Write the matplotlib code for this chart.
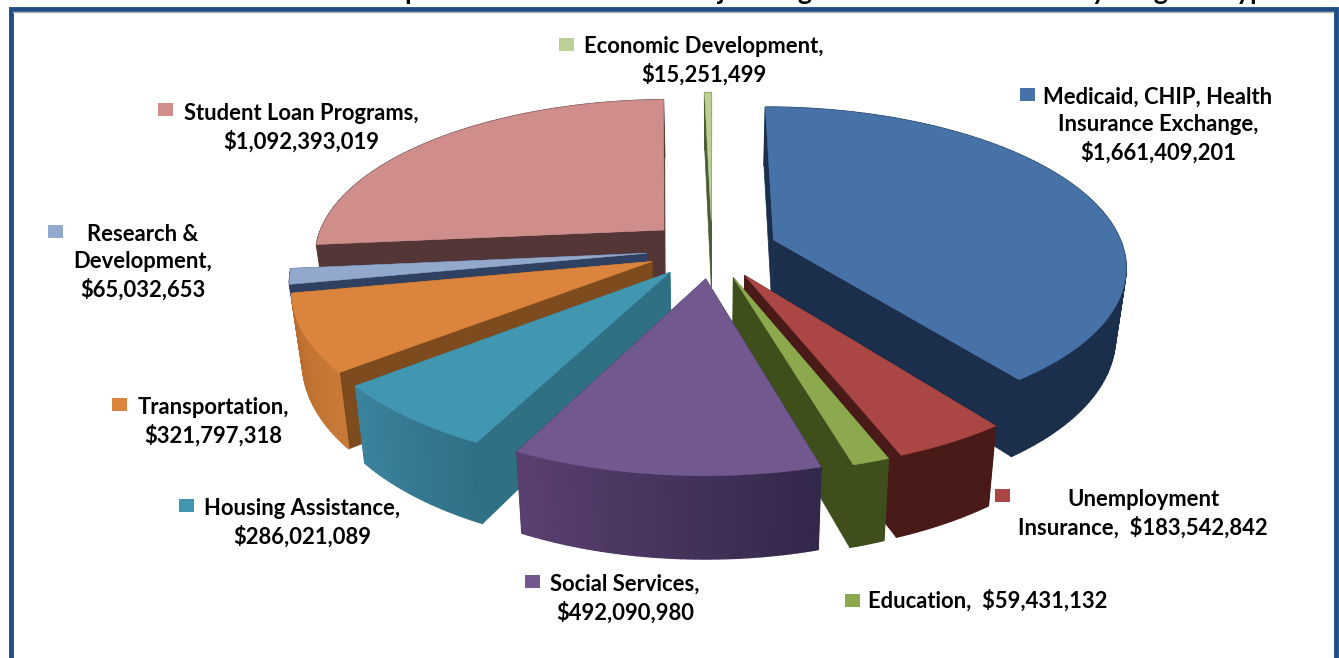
import numpy as np
import matplotlib
matplotlib.use('Agg')
import matplotlib.pyplot as plt
from matplotlib.colors import to_rgb

# funding by program type, clockwise from 12 o'clock
programas = ['Medicaid', 'Unemployment', 'Education', 'Social Services', 'Housing',
             'Transportation', 'Research', 'Student Loans', 'Economic Development']
valores = [1661409201, 183542842, 59431132, 492090980, 286021089,
           321797318, 65032653, 1092393019, 15251499]
etiquetas = ['Medicaid, CHIP, Health\nInsurance Exchange,\n$1,661,409,201',
             'Unemployment\nInsurance,  $183,542,842',
             'Education,  $59,431,132',
             'Social Services,\n$492,090,980',
             'Housing Assistance,\n$286,021,089',
             'Transportation,\n$321,797,318',
             'Research &\nDevelopment,\n$65,032,653',
             'Student Loan Programs,\n$1,092,393,019',
             'Economic Development,\n$15,251,499']
titulo = 'Fiscal Year 2014 Federal Implementation Costs on Major Program and Then Further by Program Type'

# colores: top, side left, side right, cut face
colores = [('#4672A8', '#1B2F4C', '#1B2F4C', '#1B2F4C'),
           ('#AA4643', '#4A1A19', '#4A1A19', '#4A1A19'),
           ('#8CA94E', '#3F4F1C', '#3F4F1C', '#3F4F1C'),
           ('#71588F', '#5A4070', '#33274A', '#33274A'),
           ('#4197B0', '#3B839E', '#2F7085', '#2F7085'),
           ('#DB843D', '#BA6C2E', '#C87A38', '#7D4B1D'),
           ('#92A8CD', '#2F4060', '#2F4060', '#2F4060'),
           ('#CF8E8C', '#553636', '#553636', '#553636'),
           ('#BCD095', '#4C5C35', '#4C5C35', '#4C5C35')]

# label anchor (center x, first line y) and the little legend square
pos_etiquetas = [(1158, 87), (1143, 489), (988, 601), (625, 574), (302, 498),
                 (213, 397), (143, 224), (301, 103), (704, 36)]
pos_cuadros = [(1020, 88), (995, 489), (845, 594), (525, 575), (179, 499),
               (112, 398), (48, 225), (158, 103), (559, 38)]

# pie geometry in pixels
cx, cy = 712, 249
rx, ry = 350, 156
explode = 0.187
persp = 0.155
alto = 68
pinch = 0.026

# back to front
orden = [7, 8, 6, 5, 4, 0, 1, 2, 3]


def proyectar(x, y, z):
    s = 1 / (1 + persp * y)
    return cx + rx * x * s * (1 - pinch * z), cy - ry * y * s + alto * z * s


def mezcla(c1, c2, t):
    a, b = np.array(to_rgb(c1)), np.array(to_rgb(c2))
    return tuple(a + (b - a) * t)


fig = plt.figure(figsize=(13.39, 6.58), dpi=100)
ax = fig.add_axes([0, 0, 1, 1])
ax.set_xlim(0, 1339)
ax.set_ylim(658, 0)
ax.axis('off')
plt.rcParams['font.family'] = ['Lato', 'DejaVu Sans']

# heading runs off the top of the page
ax.text(678, 0, titulo, ha='center', va='baseline', fontsize=19.2, fontweight='bold', color='black', clip_on=False)

# frame
ax.fill([10.5, 1335.5, 1335.5, 10.5], [9, 9, 670, 670], facecolor='white', edgecolor='#1F4E87', linewidth=3.5, zorder=1)
ax.plot([13, 1333], [12, 12], color='#B0B0B0', lw=1, zorder=1)

angulos = np.concatenate([[0], np.cumsum(valores)]) / np.sum(valores) * 2 * np.pi
zo = 2
for i in orden:
    a0, a1 = angulos[i], angulos[i + 1]
    medio = (a0 + a1) / 2
    ex, ey = explode * np.sin(medio), explode * np.cos(medio)
    th = np.linspace(a0, a1, max(int(np.degrees(a1 - a0)), 2) + 1)
    xs, ys = ex + np.sin(th), ey + np.cos(th)
    top, side_l, side_r, cara = colores[i]

    # the two cut faces
    for x_o, y_o in [(xs[0], ys[0]), (xs[-1], ys[-1])]:
        pts = [proyectar(ex, ey, 0), proyectar(x_o, y_o, 0), proyectar(x_o, y_o, 1), proyectar(ex, ey, 1)]
        ax.fill(*zip(*pts), color=cara, lw=0.5, zorder=zo)
        zo += 1

    # outer wall in strips so the shade can change along it
    px0, py0 = proyectar(xs, ys, 0)
    px1, py1 = proyectar(xs, ys, 1)
    for k in range(len(th) - 1):
        t = (k + 0.5) / (len(th) - 1)
        ax.fill([px0[k], px0[k + 1], px1[k + 1], px1[k]], [py0[k], py0[k + 1], py1[k + 1], py1[k]],
                color=mezcla(side_r, side_l, t), lw=1, zorder=zo)
    zo += 1

    # top of the slice
    ax0, ay0 = proyectar(ex, ey, 0)
    ax.fill(np.r_[ax0, px0], np.r_[ay0, py0], color=top, lw=0.4, zorder=zo)
    zo += 1

for i in range(len(valores)):
    x, y = pos_etiquetas[i]
    ax.text(x, y, etiquetas[i], ha='center', va='center' if '\n' not in etiquetas[i] else 'top', fontweight='bold',
            fontsize=15.8, linespacing=1.36, color='black', zorder=50)
    qx, qy = pos_cuadros[i]
    ax.fill([qx, qx + 15, qx + 15, qx], [qy, qy, qy + 13, qy + 13], color=colores[i][0], lw=0, zorder=50)

fig.savefig('out.png', dpi=100)
